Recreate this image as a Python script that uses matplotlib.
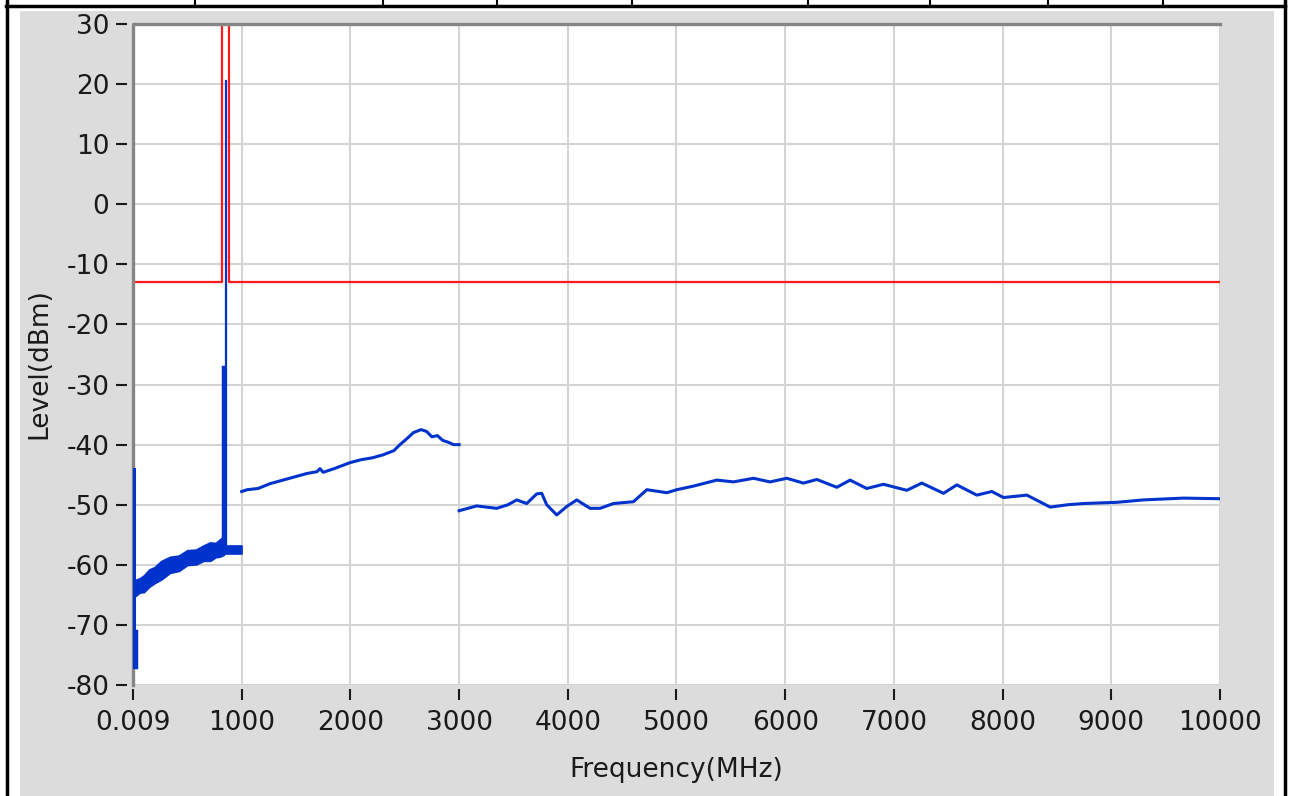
import matplotlib
matplotlib.use("Agg")
import matplotlib.pyplot as plt
from matplotlib.lines import Line2D
from matplotlib.patches import Rectangle

# limit line (red)
limit_freq = [0.009, 815, 815, 880, 880, 10000]
limit_level = [-13, -13, 40, 40, -13, -13]

# start of sweep: tall spike at the first bins
start_freq = [12, 12]
start_level = [-44, -77]
start2_freq = [25, 25]
start2_level = [-71, -77]

# noisy floor 0 - 840 MHz (lower / upper envelope)
noise_freq = [12, 60, 100, 150, 200, 260, 340, 420, 500, 580, 650, 710, 760, 800, 835]
noise_low = [-65.3, -64.6, -64.5, -63.6, -63.0, -62.4, -61.3, -61.0, -60.0, -59.9, -59.3, -59.3, -58.7, -58.6, -58.3]
noise_high = [-62.6, -62.3, -61.8, -60.8, -60.4, -59.4, -58.7, -58.5, -57.6, -57.5, -56.8, -56.3, -56.4, -55.8, -55.3]

# carrier spikes
spur_freq = [830, 830]
spur_level = [-57, -27]
carrier_freq = [855, 855]
carrier_level = [-57, 20.5]

# flat part 855 - 1000 MHz
flat_freq = [840, 1000]
flat_low = [-58.2, -58.2]
flat_high = [-56.8, -56.8]

# 1000 - 3000 MHz band
band2_freq = [1000, 1050, 1150, 1260, 1380, 1500, 1600, 1693, 1720, 1750, 1850, 1996,
              2100, 2200, 2300, 2400, 2456, 2520, 2580, 2650, 2700, 2750, 2800, 2850,
              2900, 2950, 3000]
band2_level = [-47.8, -47.5, -47.3, -46.5, -45.9, -45.3, -44.8, -44.5, -44.0, -44.6, -44.0, -43.0,
               -42.5, -42.2, -41.7, -41.0, -40.0, -39.0, -38.0, -37.5, -37.8, -38.7, -38.5, -39.3,
               -39.6, -40.0, -40.0]

# 3000 - 10000 MHz band
band3_freq = [3000, 3162, 3346, 3450, 3530, 3622, 3714, 3760, 3806, 3898, 3990, 4082, 4205,
              4297, 4420, 4604, 4727, 4911, 5003, 5156, 5371, 5524, 5708, 5861, 6014, 6168,
              6291, 6475, 6597, 6750, 6904, 7119, 7257, 7456, 7579, 7763, 7901, 8008, 8223,
              8438, 8600, 8744, 9051, 9295, 9663, 10000]
band3_level = [-51.0, -50.2, -50.6, -50.0, -49.2, -49.8, -48.2, -48.1, -50.0, -51.7, -50.3, -49.2, -50.6,
               -50.6, -49.8, -49.5, -47.5, -48.0, -47.5, -46.9, -45.9, -46.2, -45.6, -46.2, -45.6, -46.4,
               -45.8, -47.1, -45.9, -47.3, -46.6, -47.6, -46.4, -48.1, -46.7, -48.4, -47.8, -48.8, -48.4,
               -50.4, -50.0, -49.8, -49.6, -49.2, -48.9, -49.0]

x_ticks = [0.009, 1000, 2000, 3000, 4000, 5000, 6000, 7000, 8000, 9000, 10000]
x_labels = ["0.009", "1000", "2000", "3000", "4000", "5000", "6000", "7000", "8000", "9000", "10000"]
y_ticks = [-80, -70, -60, -50, -40, -30, -20, -10, 0, 10, 20, 30]

W, H = 1290, 796
plt.rcParams['font.family'] = ['DejaVu Sans']
plt.rcParams['axes.unicode_minus'] = False
fig = plt.figure(figsize=(W / 100, H / 100), dpi=100, facecolor='white')

# grey panel + table borders
fig.patches.append(Rectangle((20 / W, 0), 1254 / W, (H - 11) / H, transform=fig.transFigure,
                             facecolor='#dcdcdc', edgecolor='none', zorder=-5))
def fline(x0, y0, x1, y1, lw=2.5):
    fig.add_artist(Line2D([x0 / W, x1 / W], [1 - y0 / H, 1 - y1 / H], transform=fig.transFigure,
                          color='black', lw=lw))
fline(6, 5.5, 1285, 5.5)
fline(6.5, 0, 6.5, H)
fline(1285, 0, 1285, H)
for xd in [195, 383, 497, 632, 808, 930, 1048, 1163]:
    fline(xd, 0, xd, 5, lw=1.5)

ax = fig.add_axes([133 / W, 1 - 685 / H, (1220 - 133) / W, (685 - 24) / H])
ax.set_facecolor('white')

blue = '#0033cc'
ax.plot(limit_freq, limit_level, color='#ff1a1a', lw=1.6, zorder=4)
ax.fill_between(noise_freq, noise_low, noise_high, color=blue, lw=1.5, edgecolor=blue, zorder=3)
ax.fill_between(flat_freq, flat_low, flat_high, color=blue, lw=1.2, edgecolor=blue, zorder=3)
ax.plot(start_freq, start_level, color=blue, lw=2.2, zorder=7)
ax.plot(start2_freq, start2_level, color=blue, lw=2.5, zorder=7)
ax.plot(spur_freq, spur_level, color=blue, lw=2.5, zorder=3)
ax.plot(carrier_freq, carrier_level, color=blue, lw=1.6, zorder=5)
ax.plot(band2_freq, band2_level, color=blue, lw=2.2, zorder=3)
ax.plot(band3_freq, band3_level, color=blue, lw=2.2, zorder=3)

ax.set_xlim(0.009, 10000)
ax.set_ylim(-80, 30)
ax.set_xticks(x_ticks)
ax.set_xticklabels(x_labels)
ax.set_yticks(y_ticks)
ax.grid(True, color='#d4d4d4', lw=1.5, zorder=0)
ax.set_axisbelow(True)

for s in ax.spines.values():
    s.set_visible(False)
ax.spines['left'].set_position(('outward', 4))
ax.spines['bottom'].set_position(('outward', 3))
# inset border on top and left
ax.plot([0, 0, 1], [0, 1, 1], transform=ax.transAxes, color='#858585', lw=2.4,
        clip_on=False, zorder=6)

ax.tick_params(axis='both', colors='#1a1a1a', labelsize=19, width=1.5, length=8)
ax.tick_params(axis='y', pad=5)
ax.tick_params(axis='x', pad=7)

ax.set_xlabel('Frequency(MHz)', fontsize=19, color='#1a1a1a', labelpad=15)
ax.set_ylabel('Level(dBm)', fontsize=19, color='#1a1a1a')
ax.yaxis.set_label_coords(-0.074, 0.487)

fig.savefig('out.png', dpi=100)
